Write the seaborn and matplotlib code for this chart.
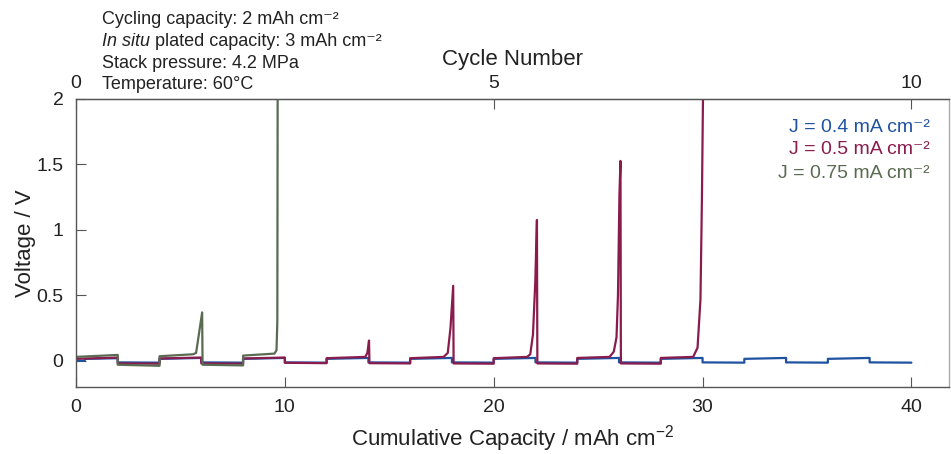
import matplotlib
matplotlib.use("Agg")
import matplotlib.pyplot as plt
import seaborn as sns

# J = 0.4 mA cm-2 (runs the full 10 cycles)
blue_cap = [0, 0.4, 0.45, 2, 2, 4, 4, 6, 6, 8, 8, 10, 10, 12, 12, 14, 14, 16, 16, 18,
            18, 20, 20, 22, 22, 24, 24, 26, 26, 28, 28, 30, 30, 32, 32, 34, 34, 36, 36, 38,
            38, 40]
blue_v = [0.0, 0.0, 0.015, 0.02, -0.012, -0.014, 0.015, 0.022, -0.012, -0.014,
          0.015, 0.022, -0.012, -0.014, 0.015, 0.022, -0.012, -0.014, 0.015, 0.022,
          -0.012, -0.014, 0.015, 0.022, -0.012, -0.014, 0.015, 0.022, -0.012, -0.014,
          0.015, 0.022, -0.012, -0.014, 0.015, 0.022, -0.012, -0.014, 0.015, 0.022,
          -0.012, -0.014]

# J = 0.5 mA cm-2 (growing spikes, fails at 30)
red_cap = [0, 2, 2, 4, 4, 6, 6, 8, 8, 10, 10, 12, 12, 13.85, 13.95, 14.03, 14.05,
           16, 16, 17.6, 17.8, 17.93, 18.06, 18.08, 20, 20, 21.6, 21.75, 21.88, 21.99,
           22.07, 22.09, 24, 24, 25.55, 25.75, 25.88, 25.95, 26.02, 26.07, 26.09, 28,
           28, 29.55, 29.76, 29.9, 29.97, 30.02, 30.04]
red_v = [0.015, 0.025, -0.02, -0.022, 0.018, 0.025, -0.02, -0.022, 0.018, 0.025,
         -0.015, -0.018, 0.02, 0.03, 0.06, 0.155, -0.018, -0.02, 0.02, 0.03, 0.06,
         0.25, 0.573, -0.02, -0.022, 0.02, 0.03, 0.05, 0.2, 0.6, 1.076, -0.02, -0.022,
         0.022, 0.03, 0.07, 0.18, 0.5, 1.27, 1.527, -0.02, -0.022, 0.022, 0.03, 0.1,
         0.47, 1.24, 2.0, 2.6]

# J = 0.75 mA cm-2 (fails at ~9.7)
green_cap = [0, 2, 2, 4, 4, 5.6, 5.75, 6.04, 6.06, 8, 8, 9.5, 9.6, 9.64, 9.66]
green_v = [0.03, 0.045, -0.03, -0.038, 0.035, 0.05, 0.06, 0.37, -0.03, -0.035,
           0.04, 0.055, 0.08, 0.3, 2.6]

series_labels = ["J = 0.4 mA cm⁻²", "J = 0.5 mA cm⁻²", "J = 0.75 mA cm⁻²"]
series_colors = ["#1f52a0", "#8a1c4d", "#5a6b52"]

# (italic lead-in, rest of line)
info_lines = [
    ("", "Cycling capacity: 2 mAh cm⁻²"),
    ("In situ", " plated capacity: 3 mAh cm⁻²"),
    ("", "Stack pressure: 4.2 MPa"),
    ("", "Temperature: 60°C"),
]

CAP_PER_CYCLE = 4

sns.set_style("ticks")
plt.rcParams["font.family"] = ["Liberation Sans", "DejaVu Sans"]
plt.rcParams["mathtext.fontset"] = "custom"
plt.rcParams["mathtext.rm"] = "Liberation Sans"
plt.rcParams["mathtext.default"] = "regular"

W, H = 951, 454
fig = plt.figure(figsize=(W / 100, H / 100), dpi=100)
ax = fig.add_axes([76 / W, 1 - 387 / H, (949 - 76) / W, (387 - 99) / H])

for cap, v, col in zip([blue_cap, red_cap, green_cap], [blue_v, red_v, green_v], series_colors):
    sns.lineplot(x=cap, y=v, ax=ax, color=col, lw=1.6, sort=False, estimator=None)

ax.set_xlim(0, 41.8)
ax.set_ylim(-0.2, 2)
ax.set_xticks([0, 10, 20, 30, 40])
ax.set_yticks([0, 0.5, 1, 1.5, 2])
ax.set_yticklabels(["0", "0.5", "1", "1.5", "2"])

edge = "#555555"
txt = "#222222"
for s in ["left", "right", "bottom", "top"]:
    ax.spines[s].set_visible(True)
    ax.spines[s].set_color(edge)
    ax.spines[s].set_linewidth(1.0)
ax.spines["right"].set_color("#aaaaaa")

ax.tick_params(axis="x", direction="in", length=7, color=edge, labelsize=14, pad=9,
               labelcolor=txt, top=False)
ax.tick_params(axis="y", direction="in", length=7, color=edge, labelsize=14, pad=9,
               labelcolor=txt)
ax.set_xlabel("Cumulative Capacity / mAh cm$^{-2}$", fontsize=16, color=txt, labelpad=5)
ax.set_ylabel("Voltage / V", fontsize=16, color=txt, labelpad=0)

secax = ax.secondary_xaxis("top", functions=(lambda c: c / CAP_PER_CYCLE,
                                               lambda n: n * CAP_PER_CYCLE))
secax.set_xticks([0, 5, 10])
secax.tick_params(direction="in", length=7, color=edge, labelsize=14, pad=5, labelcolor=txt)
secax.spines["top"].set_color(edge)
secax.set_xlabel("Cycle Number", fontsize=16, color=txt, labelpad=7)

# coloured text legend, no handles
for i, (lab, col) in enumerate(zip(series_labels, series_colors)):
    fig.text(930 / W, 1 - (127 + 23 * i) / H, lab, color=col, fontsize=14,
             ha="right", va="center")

# conditions block above the plot
for i, (lead, rest) in enumerate(info_lines):
    y = 1 - (20 + 21.5 * i) / H
    if lead:
        t = fig.text(102 / W, y, lead, color=txt, fontsize=13, style="italic",
                     ha="left", va="center")
        ax.annotate(rest, xy=(1, 0.5), xycoords=t, color=txt, fontsize=13,
                    ha="left", va="center", annotation_clip=False)
    else:
        fig.text(102 / W, y, rest, color=txt, fontsize=13, ha="left", va="center")

fig.savefig("out.png", dpi=100)
